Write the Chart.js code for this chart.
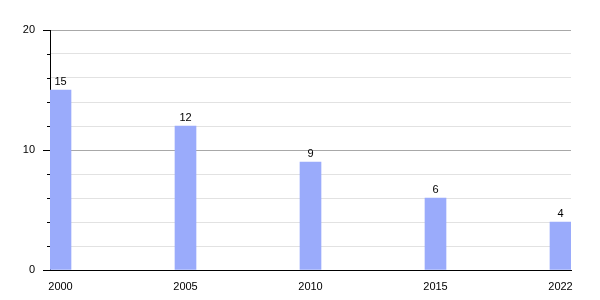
<!DOCTYPE html>
<html lang="en">
<head>
    <meta charset="UTF-8">
    <title>Chart</title>
    <script src="https://cdn.jsdelivr.net/npm/chart.js"></script>
    <style>
        html, body { margin: 0; padding: 0; background: #fff; }
        #wrap { width: 600px; height: 300px; }
    </style>
</head>
<body>
    <div id="wrap"><canvas id="chart"></canvas></div>
    <script>
        // data
        const years = ['2000', '2005', '2010', '2015', '2022'];
        const values = [15, 12, 9, 6, 4];
        const yTicks = [0, 10, 20];

        const barColor = '#9aabfb';

        // short ticks for minor lines + value labels above bars
        const extras = {
            id: 'extras',
            afterDatasetsDraw(chart) {
                const ctx = chart.ctx;
                const y = chart.scales.y;
                const left = chart.chartArea.left;
                ctx.save();
                ctx.strokeStyle = '#000';
                ctx.lineWidth = 1;
                for (let v = 0; v <= 20; v += 2) {
                    if (yTicks.includes(v)) continue;
                    const py = Math.round(y.getPixelForValue(v)) + 0.5;
                    ctx.beginPath();
                    ctx.moveTo(left - 3, py);
                    ctx.lineTo(left, py);
                    ctx.stroke();
                }
                ctx.fillStyle = '#000';
                ctx.font = '11px "Liberation Sans", Arial, sans-serif';
                ctx.textAlign = 'center';
                ctx.textBaseline = 'bottom';
                chart.getDatasetMeta(0).data.forEach((bar, i) => {
                    ctx.fillText(String(values[i]), bar.x, bar.y - 3);
                });
                ctx.restore();
            }
        };

        new Chart(document.getElementById('chart'), {
            type: 'bar',
            data: {
                datasets: [{
                    data: values.map((v, i) => ({ x: i, y: v })),
                    backgroundColor: barColor,
                    barThickness: 21
                }]
            },
            options: {
                responsive: true,
                maintainAspectRatio: false,
                animation: false,
                layout: { padding: { top: 30, right: 29, left: 0, bottom: 0 } },
                plugins: { legend: { display: false }, tooltip: { enabled: false } },
                scales: {
                    x: {
                        type: 'linear',
                        offset: false,
                        min: -0.084,
                        max: 4.084,
                        afterBuildTicks: (s) => { s.ticks = years.map((_, i) => ({ value: i })); },
                        afterFit: (s) => { s.height = 30; },
                        grid: { display: false, offset: false },
                        border: { display: true, color: '#000', width: 1 },
                        ticks: {
                            color: '#000',
                            font: { family: '"Liberation Sans", Arial, sans-serif', size: 11 },
                            padding: 2,
                            maxRotation: 0,
                            callback: (v) => years[v]
                        }
                    },
                    y: {
                        min: 0,
                        max: 20,
                        afterBuildTicks: (s) => {
                            const t = [];
                            for (let v = 0; v <= 20; v += 2) t.push({ value: v });
                            s.ticks = t;
                        },
                        afterFit: (s) => { s.width = 50; },
                        border: { display: true, color: '#000', width: 1 },
                        grid: {
                            drawTicks: true,
                            tickLength: 7,
                            color: (c) => c.tick.value === 0 ? 'transparent' : (c.tick.value % 10 === 0 ? '#a8a8a8' : '#e2e2e2'),
                            tickColor: (c) => c.tick.value % 10 === 0 ? '#000' : 'transparent'
                        },
                        ticks: {
                            color: '#000',
                            padding: 8,
                            font: { family: '"Liberation Sans", Arial, sans-serif', size: 11 },
                            callback: (v) => yTicks.includes(v) ? String(v) : ''
                        }
                    }
                }
            },
            plugins: [extras]
        });
    </script>
</body>
</html>
